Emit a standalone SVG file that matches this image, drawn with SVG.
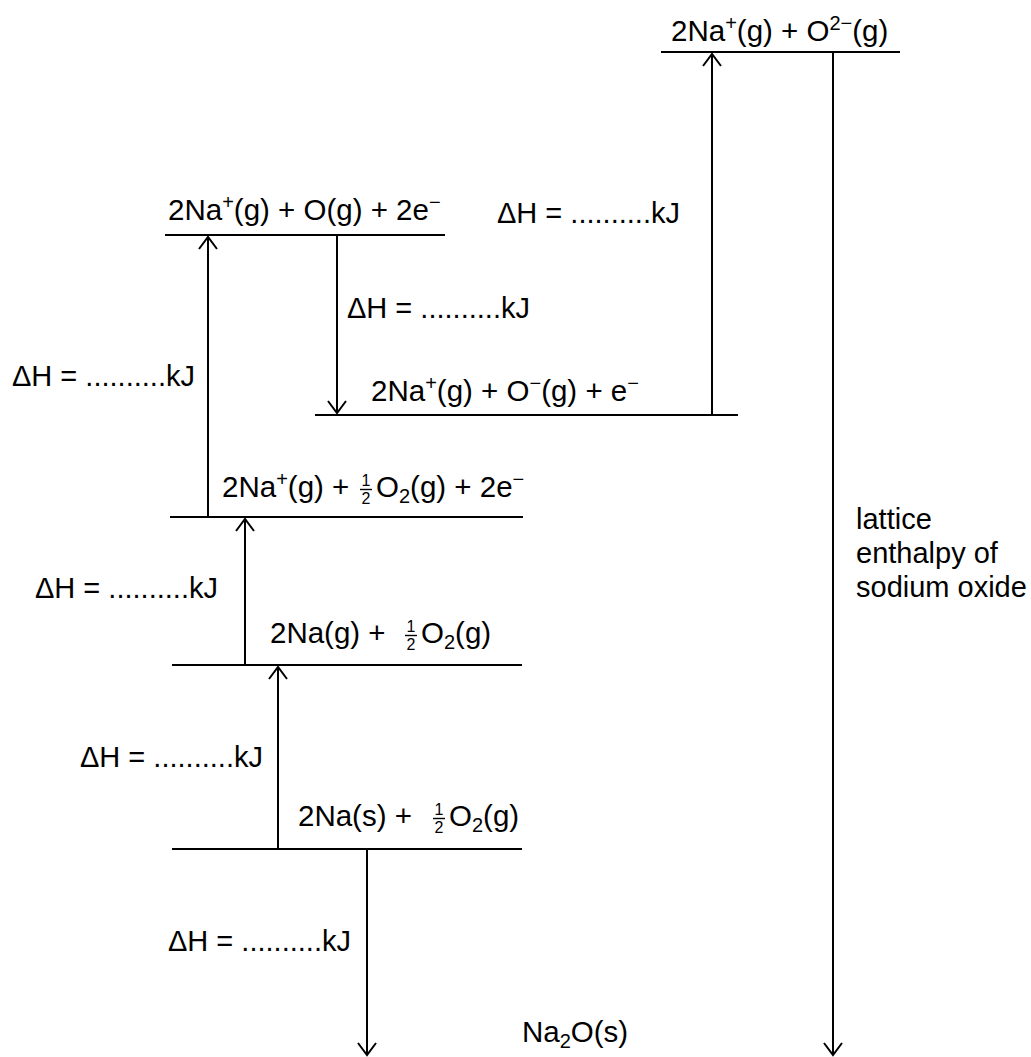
<svg xmlns="http://www.w3.org/2000/svg" width="1031" height="1057" viewBox="0 0 1031 1057">
<style>
text{font-family:"Liberation Sans",Arial,sans-serif;font-size:29.5px;fill:#000}
.lab{font-size:29px}
.sup{font-size:20px;baseline-shift:11px}
.sub{font-size:20px;baseline-shift:-6px}
.fr{font-size:16px;text-anchor:middle}
.bar{stroke:#000;stroke-width:1.4}
.lvl{stroke:#000;stroke-width:2;fill:none}
.conn line{stroke:#000;stroke-width:2;fill:none}
</style>
<defs>
<marker id="ah" markerUnits="userSpaceOnUse" viewBox="-15 -15 30 30" markerWidth="30" markerHeight="30" refX="0" refY="0" orient="auto" overflow="visible">
<path d="M-12,-9 L0,0 L-12,9" fill="none" stroke="#000" stroke-width="2"/>
</marker>
</defs>
<rect width="1031" height="1057" fill="#fff"/>
<g id="n-top">
<line class="lvl" x1="661" y1="52" x2="900" y2="52"/>
<text x="671" y="41">2Na<tspan class="sup">+</tspan>(g) + O<tspan class="sup">2−</tspan>(g)</text>
</g>
<g id="n-oatom">
<line class="lvl" x1="165" y1="235" x2="445" y2="235"/>
<text x="168" y="220">2Na<tspan class="sup">+</tspan>(g) + O(g) + 2e<tspan class="sup">−</tspan></text>
</g>
<g id="n-oion">
<line class="lvl" x1="315" y1="415" x2="738" y2="415"/>
<text x="371" y="401">2Na<tspan class="sup">+</tspan>(g) + O<tspan class="sup">−</tspan>(g) + e<tspan class="sup">−</tspan></text>
</g>
<g id="n-naion">
<line class="lvl" x1="170" y1="517" x2="523" y2="517"/>
<text x="222" y="497">2Na<tspan class="sup">+</tspan>(g) +</text>
<text class="fr" x="366" y="486">1</text>
<line class="bar" x1="360" y1="489.5" x2="372" y2="489.5"/>
<text class="fr" x="366" y="504">2</text>
<text x="376" y="497">O<tspan class="sub">2</tspan>(g) + 2e<tspan class="sup">−</tspan></text>
</g>
<g id="n-nagas">
<line class="lvl" x1="172" y1="665" x2="522" y2="665"/>
<text x="270" y="643">2Na(g) +</text>
<text class="fr" x="411" y="632">1</text>
<line class="bar" x1="405" y1="635.5" x2="417" y2="635.5"/>
<text class="fr" x="411" y="650">2</text>
<text x="421" y="643">O<tspan class="sub">2</tspan>(g)</text>
</g>
<g id="n-nasolid">
<line class="lvl" x1="172" y1="849" x2="522" y2="849"/>
<text x="298" y="826">2Na(s) +</text>
<text class="fr" x="439" y="815">1</text>
<line class="bar" x1="433" y1="818.5" x2="445" y2="818.5"/>
<text class="fr" x="439" y="833">2</text>
<text x="449" y="826">O<tspan class="sub">2</tspan>(g)</text>
</g>
<g id="n-na2o">
<text x="522" y="1042">Na<tspan class="sub">2</tspan>O(s)</text>
</g>
<g id="labels">
<text class="lab" x="497" y="223">ΔH = ..........kJ</text>
<text class="lab" x="347" y="318">ΔH = ..........kJ</text>
<text class="lab" x="12" y="386">ΔH = ..........kJ</text>
<text class="lab" x="35" y="598">ΔH = ..........kJ</text>
<text class="lab" x="80" y="767">ΔH = ..........kJ</text>
<text class="lab" x="168" y="951">ΔH = ..........kJ</text>
<text class="lab" x="856" y="529">lattice</text>
<text class="lab" x="856" y="563">enthalpy of</text>
<text class="lab" x="856" y="597">sodium oxide</text>
</g>
<g id="connectors" class="conn">
<line x1="712" y1="415" x2="712" y2="54" marker-end="url(#ah)"/>
<line x1="833" y1="52" x2="833" y2="1055" marker-end="url(#ah)"/>
<line x1="208" y1="517" x2="208" y2="237" marker-end="url(#ah)"/>
<line x1="337" y1="235" x2="337" y2="413" marker-end="url(#ah)"/>
<line x1="245" y1="665" x2="245" y2="519" marker-end="url(#ah)"/>
<line x1="278" y1="849" x2="278" y2="667" marker-end="url(#ah)"/>
<line x1="367" y1="849" x2="367" y2="1055" marker-end="url(#ah)"/>
</g>
</svg>
